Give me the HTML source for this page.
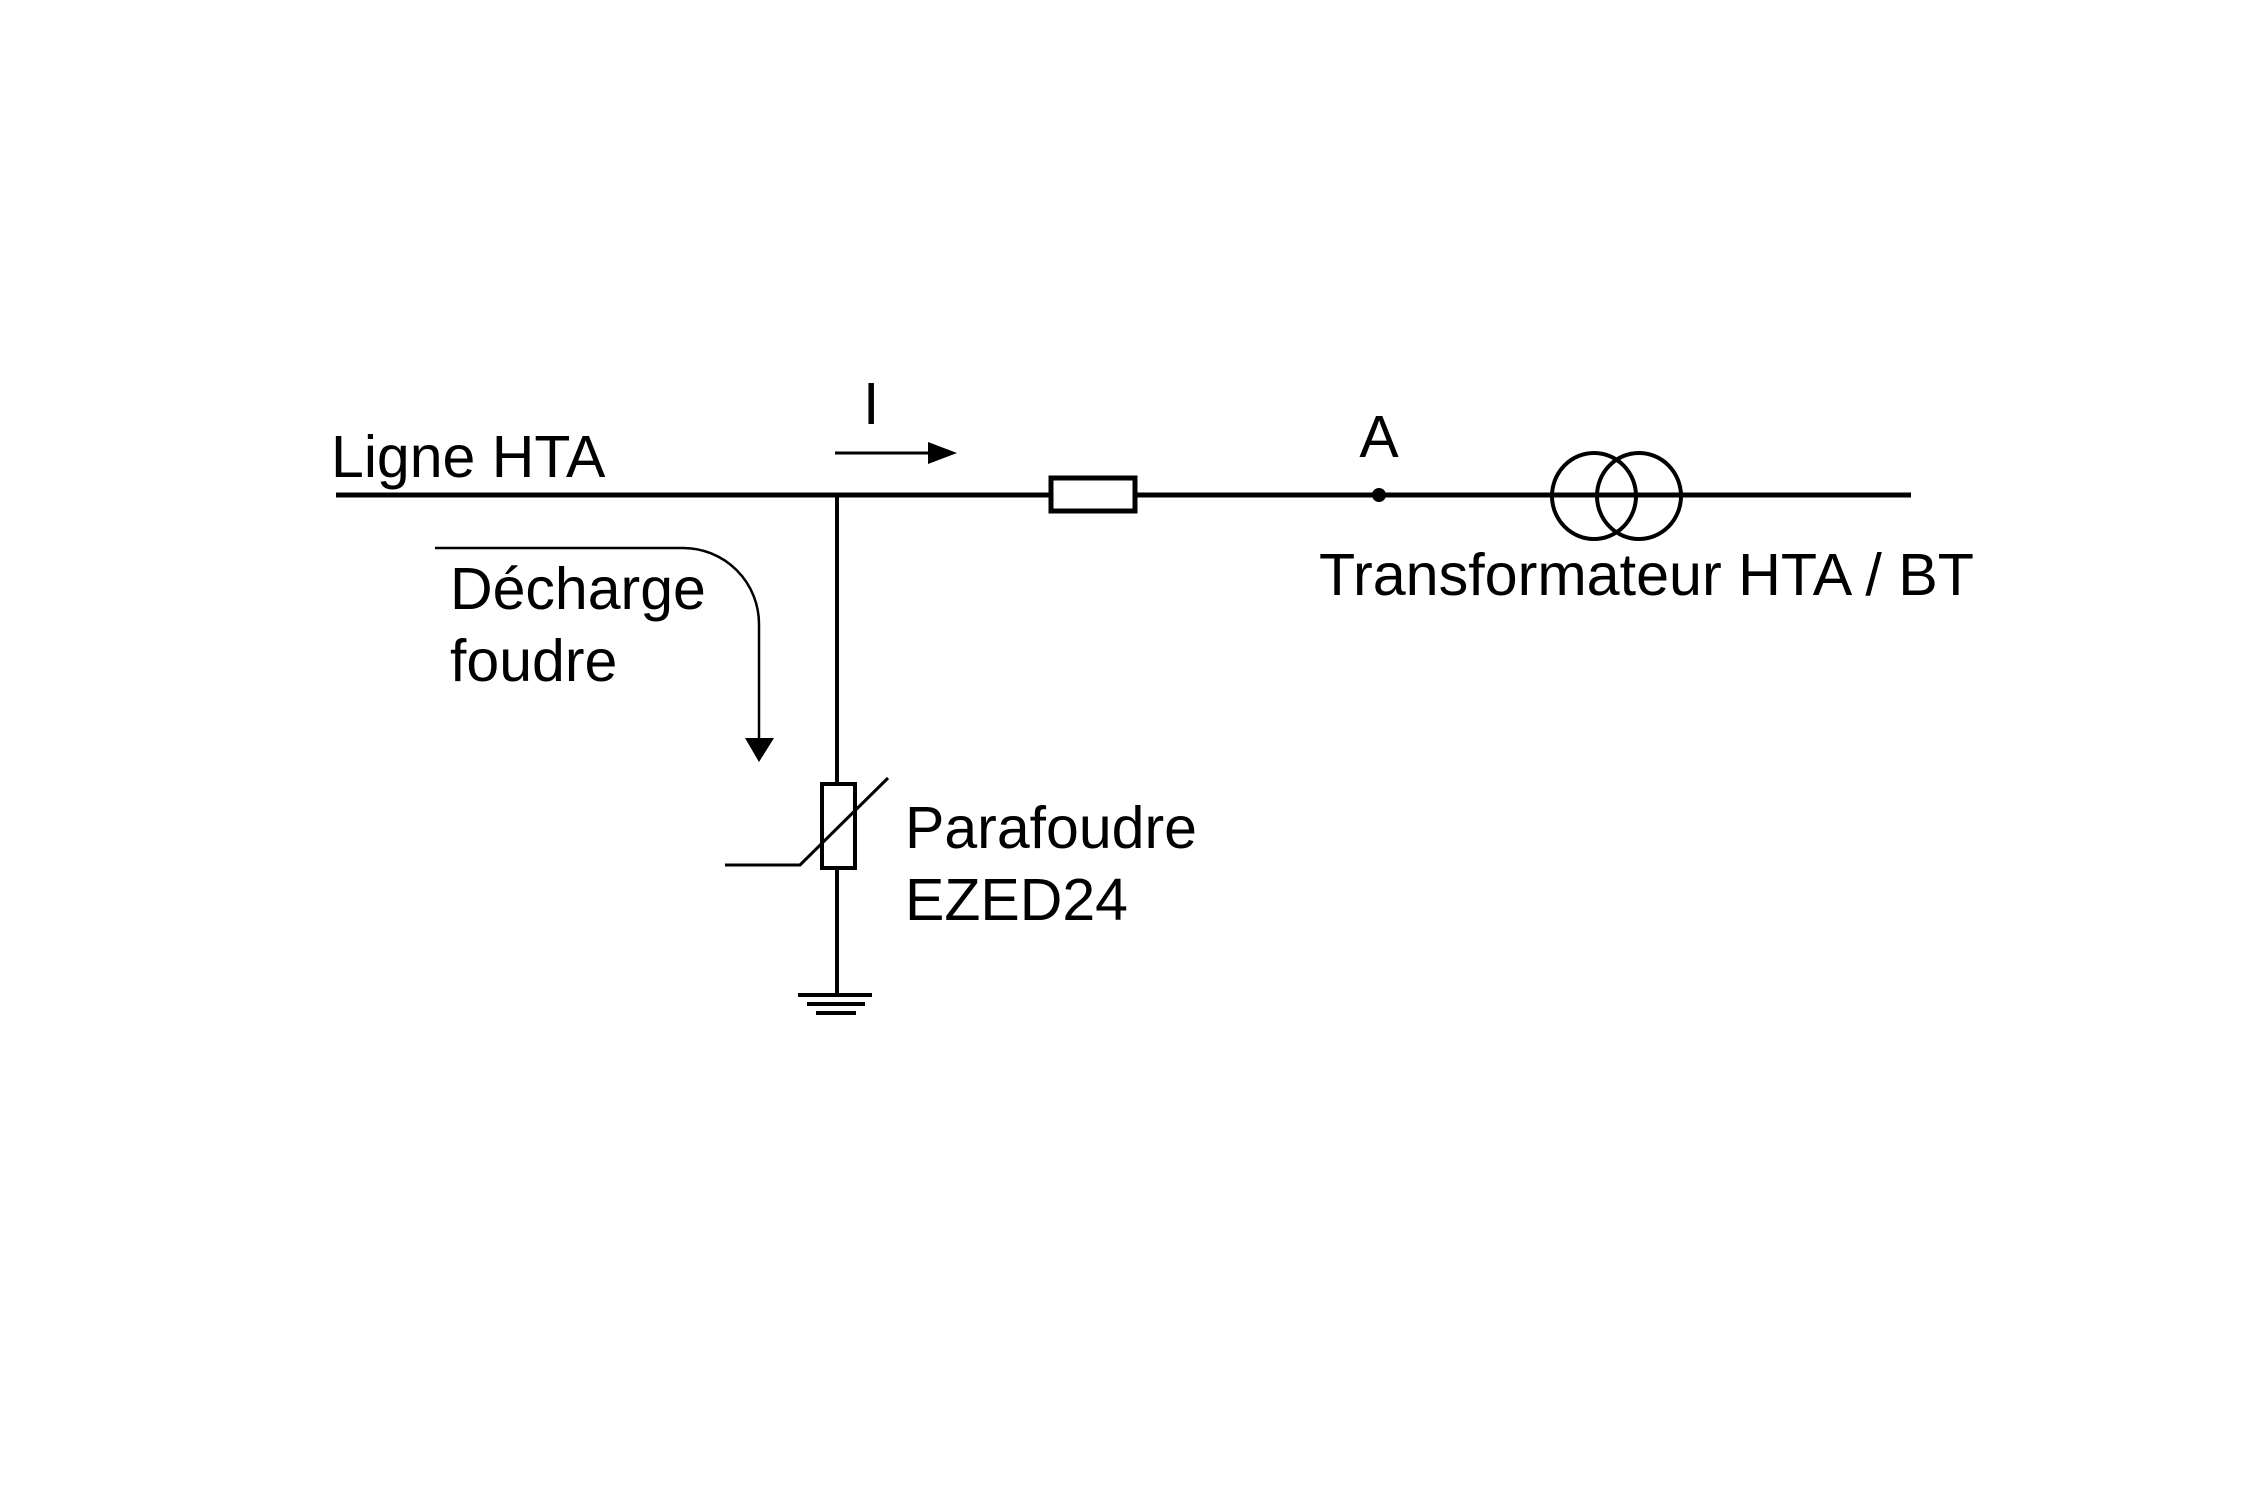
<!DOCTYPE html>
<html><head><meta charset="utf-8"><style>
html,body{margin:0;padding:0;background:#fff;}
svg{display:block;}
text{font-family:"Liberation Sans",Arial,sans-serif;font-size:59px;fill:#000;}
</style></head><body>
<svg width="2250" height="1500" viewBox="0 0 2250 1500">
<g transform="translate(-7,-4)">
<g stroke="#000" fill="none">
<line x1="343" y1="499" x2="1918" y2="499" stroke-width="5"/>
<rect x="1058" y="482" width="84" height="33" fill="#fff" stroke-width="5"/>
<circle cx="1386" cy="499" r="7" fill="#000" stroke="none"/>
<ellipse cx="1601" cy="500" rx="42" ry="43" stroke-width="4"/>
<ellipse cx="1646" cy="500" rx="42" ry="43" stroke-width="4"/>
<line x1="842" y1="457" x2="940" y2="457" stroke-width="3"/>
<line x1="844" y1="499" x2="844" y2="998" stroke-width="4"/>
<rect x="829" y="788" width="33" height="84" fill="#fff" stroke-width="4"/>
<polyline points="732,869 807,869 895,782" stroke-width="3"/>
<line x1="805" y1="999" x2="879" y2="999" stroke-width="4"/>
<line x1="814" y1="1008" x2="872" y2="1008" stroke-width="4"/>
<line x1="823" y1="1017" x2="863" y2="1017" stroke-width="4"/>
<path d="M442 552 H690 A76 76 0 0 1 766 628 V742" stroke-width="2.5"/>
</g>
<polygon points="935,446 964,457 935,468" fill="#000"/>
<polygon points="752,742 781,742 766,766" fill="#000"/>
<text x="338" y="481">Ligne HTA</text>
<text x="870" y="428">I</text>
<text x="1386" y="461" text-anchor="middle">A</text>
<text x="1326" y="599" textLength="655" lengthAdjust="spacingAndGlyphs">Transformateur HTA / BT</text>
<text x="457" y="613">Décharge</text>
<text x="457" y="685">foudre</text>
<text x="912" y="852">Parafoudre</text>
<text x="912" y="924">EZED24</text>
</g>
</svg>
</body></html>
